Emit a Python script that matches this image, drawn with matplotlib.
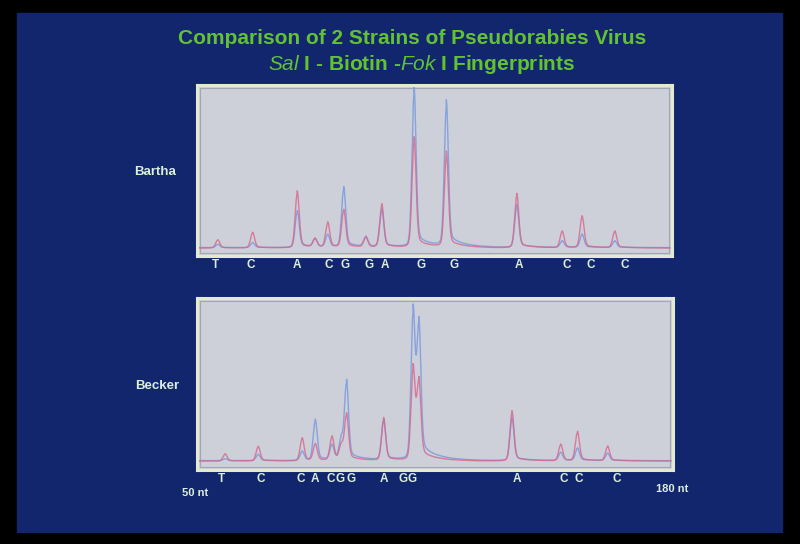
import numpy as np
import matplotlib
matplotlib.use("Agg")
import matplotlib.pyplot as plt
from matplotlib.patches import Rectangle
from matplotlib.transforms import blended_transform_factory

plt.rcParams['font.family'] = ['Liberation Sans', 'DejaVu Sans']
plt.rcParams['mathtext.fontset'] = 'custom'
plt.rcParams['mathtext.it'] = 'Liberation Sans:italic'
plt.rcParams['mathtext.rm'] = 'Liberation Sans:bold'

# ---- data (fragment size in nt, relative signal) ----
bartha_pos = [55.4, 65.0, 77.3, 82.2, 85.7, 90.1, 96.2, 100.6, 109.5, 118.4, 137.8, 150.3, 155.8, 164.8]
bartha_blue = [2, 3, 22, 5, 7.5, 36, 6, 22.5, 96, 87, 25.6, 4, 8, 4]
bartha_red = [5, 9.4, 34, 5, 15, 22.5, 6, 26, 66, 57, 32.5, 10, 19, 10]
bartha_bases = ['T', 'C', 'A', 'C', 'G', 'G', 'A', 'G', 'G', 'A', 'C', 'C', 'C']
bartha_base_pos = [54.7, 64.6, 77.3, 86.1, 90.5, 97.1, 101.5, 111.4, 120.5, 138.4, 151.6, 158.2, 167.6]

becker_pos = [57.4, 66.5, 78.6, 82.2, 86.8, 89.3, 90.8, 101.0, 109.1, 110.7, 136.3, 149.7, 154.3, 162.6]
becker_blue = [1.2, 3.8, 5.6, 24.4, 8.8, 11.9, 46.9, 23.8, 90, 79, 25.6, 5, 7.5, 4.4]
becker_red = [4.4, 8.8, 13.8, 10, 14.4, 8.8, 27.5, 25.6, 56, 46, 30, 10, 17.5, 8.8]
becker_bases = ['T', 'C', 'C', 'A', 'C', 'G', 'G', 'A', 'G', 'G', 'A', 'C', 'C', 'C']
becker_base_pos = [56.3, 67.1, 78.3, 82.2, 86.6, 89.1, 92.1, 101.0, 106.5, 108.9, 137.8, 150.6, 154.7, 165.1]

W, H = 800, 544
SLIDE = '#12266e'
PANEL = '#cdd0d9'
TXT = '#dcefd9'
GREEN = '#62c232'


def trace(x, pos, heights):
    y = np.zeros_like(x)
    for p, h in zip(pos, heights):
        d = x - p
        core = 0.87 * np.exp(-d ** 2 / (2 * 0.55 ** 2)) + 0.13 / (1 + (d / 0.8) ** 2)
        tail = np.where(d > 0, 0.06 * np.exp(-d / 5.0), 0)
        y += h * (core + tail)
    return y


def panel(rect, pos, blue, red, bases, base_pos, ylo):
    ax = fig.add_axes(rect, zorder=2)
    ax.set_facecolor(PANEL)
    x = np.linspace(50, 180, 3000)
    ax.plot(x, trace(x, pos, blue) + 0.3, color='#7b9ade', lw=1.0, alpha=0.85)
    ax.plot(x, trace(x, pos, red), color='#d8668a', lw=1.0, alpha=0.8)
    ax.set_xlim(49.7, 180.6)
    ax.set_ylim(ylo, 103)
    ax.set_xticks([])
    ax.set_yticks([])
    for s in ax.spines.values():
        s.set_color('#e2ebcf')
        s.set_linewidth(2.2)
    ax.add_patch(Rectangle((0.006, 0.018), 0.988, 0.964, transform=ax.transAxes,
                           fill=False, ec='#a2a6b6', lw=0.8))
    tr = blended_transform_factory(ax.transData, ax.transAxes)
    for b, p in zip(bases, base_pos):
        ax.text(p, -0.055, b, transform=tr, ha='center', va='center',
                color=TXT, fontsize=8.5, fontweight='bold')
    return ax


fig = plt.figure(figsize=(W / 100, H / 100), dpi=100, facecolor='black')
fig.patches.append(Rectangle((17 / W, 1 - 532 / H), (782 - 17) / W, (532 - 13) / H,
                             transform=fig.transFigure, color=SLIDE, zorder=-1))

panel([197 / W, 1 - 256 / H, 475 / W, 171 / H], bartha_pos, bartha_blue, bartha_red,
      bartha_bases, bartha_base_pos, -5)
panel([197 / W, 1 - 470 / H, 476 / W, 172 / H], becker_pos, becker_blue, becker_red,
      becker_bases, becker_base_pos, -5.6)

fig.text(412 / W, 1 - 38 / H, 'Comparison of 2 Strains of Pseudorabies Virus',
         ha='center', va='center', color=GREEN, fontsize=15, fontweight='bold')
fig.text(422 / W, 1 - 64 / H, r'$\mathit{Sal}$ I - Biotin -$\mathit{Fok}$ I Fingerprints',
         ha='center', va='center', color=GREEN, fontsize=15, fontweight='bold')

fig.text(155 / W, 1 - 172 / H, 'Bartha', ha='center', va='center', color=TXT,
         fontsize=9.5, fontweight='bold')
fig.text(157 / W, 1 - 386 / H, 'Becker', ha='center', va='center', color=TXT,
         fontsize=9.5, fontweight='bold')
fig.text(195 / W, 1 - 493 / H, '50 nt', ha='center', va='center', color=TXT,
         fontsize=8, fontweight='bold')
fig.text(672 / W, 1 - 489 / H, '180 nt', ha='center', va='center', color=TXT,
         fontsize=8, fontweight='bold')

fig.savefig('out.png', dpi=100, facecolor=fig.get_facecolor())
